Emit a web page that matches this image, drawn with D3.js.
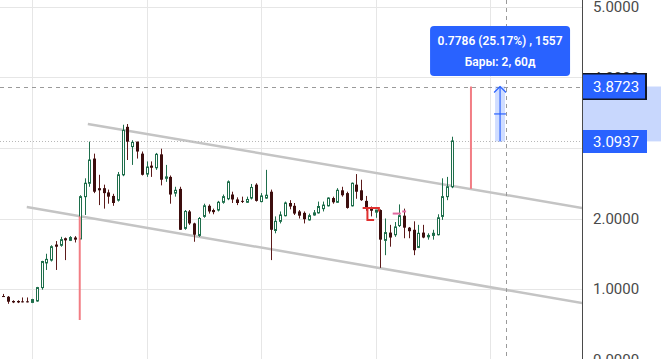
<!DOCTYPE html>
<html>
<head>
<meta charset="utf-8">
<script src="https://cdn.jsdelivr.net/npm/d3@7.9.0/dist/d3.min.js"></script>
<style>
  html, body { margin: 0; padding: 0; background: #fff; }
  svg { display: block; font-family: Roboto, "Noto Sans", sans-serif; }
</style>
</head>
<body>
<svg id="chart" width="661" height="359"></svg>
<script>
// OHLC per bar (bar 0 = leftmost candle)
const opens = [0.90,0.89,0.83,0.83,0.825,0.825,0.81,0.83,1.02,1.37,1.41,1.63,1.62,1.72,1.69,1.73,1.71,2.31,2.50,2.85,
  2.43,2.43,2.37,2.32,2.26,2.62,3.30,3.02,3.09,2.92,2.63,2.75,2.72,2.91,2.57,2.59,2.36,2.42,1.86,2.10,
  1.93,1.76,2.03,2.18,2.12,2.12,2.23,2.28,2.34,2.27,2.25,2.23,2.29,2.48,2.24,2.29,2.38,1.83,1.96,2.04,
  2.22,2.18,2.10,2.08,1.98,2.05,2.08,2.14,2.18,2.29,2.23,2.40,2.36,2.18,2.48,2.40,2.25,2.14,2.09,2.12,
  1.69,1.80,1.77,1.90,2.04,1.87,1.84,1.59,1.80,1.74,1.76,1.77,2.03,2.31,2.45];
const highs = [0.93,0.90,0.84,0.84,0.88,0.88,0.86,1.03,1.40,1.50,1.62,1.68,1.74,1.73,1.75,1.75,2.33,2.57,3.09,2.92,
  2.62,2.48,2.41,2.35,2.66,3.33,3.34,3.11,3.09,2.95,2.81,2.81,2.93,2.99,2.76,2.61,2.45,2.45,2.12,2.12,
  1.94,2.02,2.21,2.20,2.14,2.25,2.34,2.54,2.38,2.30,2.31,2.31,2.49,2.50,2.36,2.69,2.41,2.03,2.10,2.24,
  2.26,2.22,2.12,2.10,2.07,2.12,2.24,2.24,2.30,2.31,2.43,2.45,2.38,2.51,2.63,2.55,2.32,2.17,2.12,2.13,
  2.00,1.91,1.95,2.20,2.14,1.88,1.96,1.91,1.91,1.79,1.84,2.06,2.57,2.59,3.16];
const lows = [0.89,0.79,0.80,0.80,0.81,0.81,0.80,0.82,0.99,1.27,1.39,1.27,1.60,1.41,1.68,1.66,1.70,2.05,2.45,2.36,
  2.19,2.14,2.21,2.18,2.24,2.60,2.83,2.76,2.85,2.61,2.59,2.59,2.69,2.47,2.52,2.21,2.31,1.84,1.84,1.91,
  1.67,1.74,2.01,2.07,2.06,2.10,2.21,2.26,2.22,2.19,2.22,2.22,2.27,2.24,2.23,2.28,1.41,1.79,1.93,2.03,
  2.13,2.05,2.00,1.93,1.97,2.04,2.07,2.10,2.17,2.21,2.22,2.31,2.14,2.17,2.28,2.25,2.11,2.03,2.01,1.30,
  1.48,1.60,1.74,1.88,1.72,1.72,1.48,1.58,1.72,1.70,1.70,1.76,1.98,2.26,2.43];
const closes = [0.89,0.82,0.81,0.81,0.82,0.82,0.85,1.02,1.39,1.42,1.60,1.60,1.70,1.69,1.73,1.70,2.31,2.50,2.83,2.38,
  2.40,2.36,2.31,2.22,2.62,3.25,3.09,3.08,2.95,2.62,2.73,2.72,2.91,2.55,2.59,2.34,2.40,1.84,2.10,1.93,
  1.77,2.00,2.18,2.10,2.09,2.23,2.31,2.52,2.27,2.22,2.24,2.27,2.44,2.25,2.32,2.33,1.84,1.96,2.05,2.22,
  2.17,2.07,2.04,1.99,2.04,2.08,2.17,2.19,2.29,2.23,2.40,2.33,2.15,2.50,2.38,2.26,2.14,2.11,2.12,1.70,
  1.80,1.73,1.88,2.04,1.87,1.82,1.55,1.79,1.73,1.76,1.79,2.01,2.31,2.45,3.10];

const priceTicks = [0, 1, 2, 3, 4, 5];
const timeGridBars = [6, 30, 54, 78, 102];
// drawn channel: [bar, price] end points
const channelUpper = [[17.7, 3.34], [121.3, 2.15]];
const channelLower = [[4.9, 2.163], [121.3, 0.80]];
const redVerticals = [{ bar: 16, from: 2.03, to: 0.56 }, { bar: 98, from: 3.8723, to: 2.42 }];
const redBracket = [[75.3, 2.15], [78.7, 2.15], [78.7, 2.10]];
const redBracket2 = [[76.3, 2.15], [76.3, 1.98], [77.7, 1.98]];
const pinkMark = [[81.6, 2.07], [83.3, 2.07]];
const pinkMark2 = [[83.6, 2.10], [84.4, 2.10]];
const measure = { bar: 104.1, from: 3.0937, to: 3.8723 };
const crosshairBar = 105.35;
const hiLabel = 3.8723, loLabel = 3.0937;
const tooltipLines = ["0.7786 (25.17%) , 1557", "Бары: 2, 60д"];

const W = 661, H = 359, axisX = 582;
const svg = d3.select('#chart');
const x = d3.scaleLinear().domain([0, 100]).range([3.4, 480.5]);
const y = d3.scaleLinear().domain([0, 5]).range([359.5, 7]);

svg.append('rect').attr('width', W).attr('height', H).attr('fill', '#fff');

svg.append('defs').append('clipPath').attr('id', 'plot')
  .append('rect').attr('width', axisX).attr('height', H);
const plot = svg.append('g').attr('clip-path', 'url(#plot)');

// grid
plot.selectAll('.hgrid').data(priceTicks).enter().append('line')
  .attr('x1', 0).attr('x2', axisX)
  .attr('y1', d => Math.round(y(d)) + 0.5).attr('y2', d => Math.round(y(d)) + 0.5)
  .attr('stroke', '#e6e6e6');
plot.selectAll('.vgrid').data(timeGridBars).enter().append('line')
  .attr('x1', d => Math.round(x(d)) + 0.5).attr('x2', d => Math.round(x(d)) + 0.5)
  .attr('y1', 0).attr('y2', H)
  .attr('stroke', '#e6e6e6');

// channel lines
const lineGen = d3.line().x(d => x(d[0])).y(d => y(d[1]));
[channelUpper, channelLower].forEach(c => {
  plot.append('path').attr('d', lineGen(c))
    .attr('fill', 'none').attr('stroke', '#c4c4c4').attr('stroke-width', 2.5);
});

// price lines
plot.append('line').attr('x1', 0).attr('x2', axisX)
  .attr('y1', Math.round(y(hiLabel)) + 0.5).attr('y2', Math.round(y(hiLabel)) + 0.5)
  .attr('stroke', '#9a9a9a').attr('stroke-dasharray', '4,4');
plot.append('line').attr('x1', 0).attr('x2', axisX)
  .attr('y1', Math.round(y(loLabel)) + 0.5).attr('y2', Math.round(y(loLabel)) + 0.5)
  .attr('stroke', '#b8b8b8').attr('stroke-dasharray', '1,2');

// candles
const bars = d3.range(opens.length).map(i => ({
  i, o: opens[i], h: highs[i], l: lows[i], c: closes[i]
}));
const up = '#1e6e4b', downFill = '#3d0e0e', downWick = '#5c1a1a';
const cg = plot.selectAll('.candle').data(bars).enter().append('g');
cg.append('line')
  .attr('x1', d => Math.round(x(d.i)) + 0.5).attr('x2', d => Math.round(x(d.i)) + 0.5)
  .attr('y1', d => y(d.h)).attr('y2', d => y(d.l))
  .attr('stroke', d => d.c >= d.o ? up : downWick);
cg.append('rect')
  .attr('x', d => d.c >= d.o ? Math.round(x(d.i)) - 0.5 : Math.round(x(d.i)) - 1)
  .attr('width', d => d.c >= d.o ? 2 : 3)
  .attr('y', d => y(Math.max(d.o, d.c)))
  .attr('height', d => Math.max(1, Math.abs(y(d.o) - y(d.c))))
  .attr('fill', d => d.c >= d.o ? '#fff' : downFill)
  .attr('stroke', d => d.c >= d.o ? up : 'none');

// drawn red verticals and small marks
plot.selectAll('.redv').data(redVerticals).enter().append('line')
  .attr('x1', d => x(d.bar)).attr('x2', d => x(d.bar))
  .attr('y1', d => y(d.from)).attr('y2', d => y(d.to))
  .attr('stroke', '#f27d84').attr('stroke-width', 2);
[redBracket, redBracket2].forEach(p => plot.append('path').attr('d', lineGen(p))
  .attr('fill', 'none').attr('stroke', '#e0302f').attr('stroke-width', 2));
[pinkMark, pinkMark2].forEach(p => plot.append('path').attr('d', lineGen(p))
  .attr('fill', 'none').attr('stroke', '#e06aa0').attr('stroke-width', 2));

// crosshair
plot.append('line')
  .attr('x1', Math.round(x(crosshairBar)) + 0.5).attr('x2', Math.round(x(crosshairBar)) + 0.5)
  .attr('y1', 0).attr('y2', H)
  .attr('stroke', '#9a9a9a').attr('stroke-dasharray', '4,4');

// measure tool
const mx = x(measure.bar), myTop = y(measure.to), myBot = y(measure.from);
plot.append('rect').attr('x', mx - 5).attr('width', 10)
  .attr('y', myTop).attr('height', myBot - myTop)
  .attr('fill', 'rgba(41,98,255,0.22)');
plot.append('line').attr('x1', mx).attr('x2', mx).attr('y1', myTop).attr('y2', myBot)
  .attr('stroke', '#2962ff').attr('stroke-width', 1.2);
plot.append('path').attr('d', `M${mx - 6},${myTop + 6}L${mx},${myTop}L${mx + 6},${myTop + 6}`)
  .attr('fill', 'none').attr('stroke', '#2962ff').attr('stroke-width', 1.2);
plot.append('line').attr('x1', mx - 6).attr('x2', mx + 6)
  .attr('y1', (myTop + myBot) / 2).attr('y2', (myTop + myBot) / 2)
  .attr('stroke', '#2962ff').attr('stroke-width', 1.2);

// tooltip
const tip = svg.append('g').attr('transform', `translate(${mx},26)`);
tip.append('rect').attr('x', -70).attr('width', 140).attr('height', 50).attr('rx', 4)
  .attr('fill', '#2962ff');
tip.selectAll('text').data(tooltipLines).enter().append('text')
  .attr('x', 0).attr('y', (d, i) => 19 + i * 21)
  .attr('text-anchor', 'middle').attr('fill', '#fff')
  .attr('font-size', 12).attr('font-weight', 600)
  .text(d => d);

// price axis
const axisG = svg.append('g').attr('transform', `translate(${axisX},0)`)
  .call(d3.axisRight(y).tickValues(priceTicks).tickFormat(d3.format('.4f')).tickSize(0).tickPadding(11));
axisG.select('.domain').remove();
axisG.selectAll('text').attr('font-size', 15).attr('fill', '#4a4a4a')
  .attr('font-family', 'Roboto, "Noto Sans", sans-serif');

svg.append('rect').attr('x', axisX).attr('y', y(hiLabel)).attr('width', W - axisX)
  .attr('height', y(loLabel) - y(hiLabel)).attr('fill', '#c8d7fd');

svg.append('rect').attr('x', axisX).attr('y', 73).attr('width', 65).attr('height', 27).attr('fill', '#131722');
[{ v: hiLabel, y0: 74.5, w: 63, h: 24 }, { v: loLabel, y0: 130, w: 65, h: 23 }].forEach(l => {
  svg.append('rect').attr('x', axisX).attr('y', l.y0).attr('width', l.w).attr('height', l.h)
    .attr('fill', '#2962ff');
  svg.append('text').attr('x', axisX + 11).attr('y', y(l.v)).attr('dy', '0.35em')
    .attr('font-size', 15).attr('fill', '#fff').text(d3.format('.4f')(l.v));
});

svg.append('line').attr('x1', axisX + 0.5).attr('x2', axisX + 0.5).attr('y1', 0).attr('y2', H)
  .attr('stroke', '#4a4a4a');
</script>
</body>
</html>
